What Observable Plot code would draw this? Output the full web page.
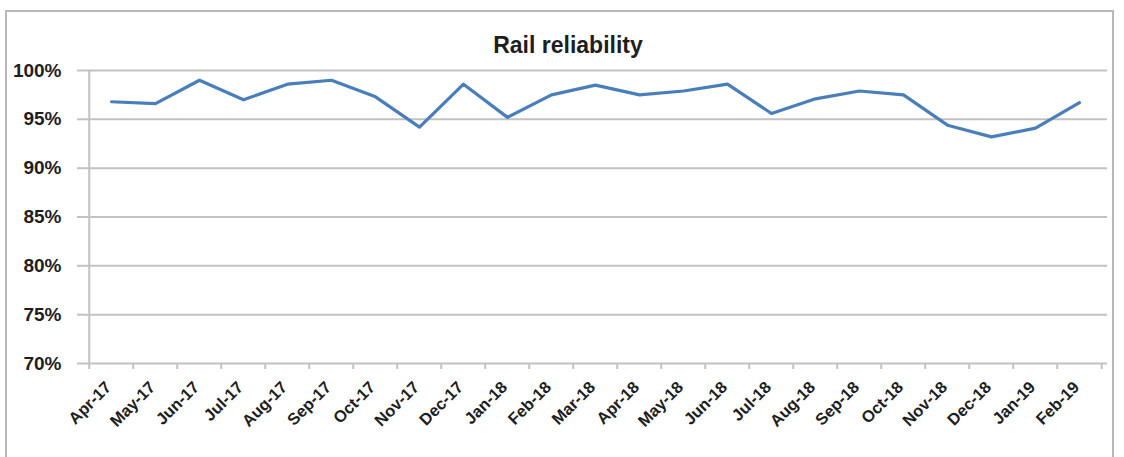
<!DOCTYPE html>
<html>
<head>
<meta charset="utf-8">
<script src="https://cdn.jsdelivr.net/npm/d3@7"></script>
<script src="https://cdn.jsdelivr.net/npm/@observablehq/plot@0.6"></script>
<style>
  body { margin: 0; background: #fff; font-family: "Liberation Sans", Arial, sans-serif; }
  #wrap { position: relative; width: 1124px; height: 457px; overflow: hidden; }
  #box { position: absolute; left: 5px; top: 10px; width: 1109px; height: 470px; border: 2px solid #b8b8b8; box-sizing: border-box; }
  #title { position: relative; height: 60px; }
  #title span { position: absolute; left: 418px; width: 300px; top: 34px; text-align: center;
    font-size: 23px; line-height: 22px; font-weight: bold; color: #1e1e1e; }
  #chart { position: relative; }
  #chart svg { display: block; }
</style>
</head>
<body>
<div id="wrap">
  <div id="box"></div>
  <div id="title"><span>Rail reliability</span></div>
  <div id="chart"></div>
</div>
<script>
// Monthly rail reliability, April 2017 – February 2019
const months = [
  "Apr-17", "May-17", "Jun-17", "Jul-17", "Aug-17", "Sep-17", "Oct-17", "Nov-17",
  "Dec-17", "Jan-18", "Feb-18", "Mar-18", "Apr-18", "May-18", "Jun-18", "Jul-18",
  "Aug-18", "Sep-18", "Oct-18", "Nov-18", "Dec-18", "Jan-19", "Feb-19"
];
const reliability = [
  0.968, 0.966, 0.990, 0.970, 0.986, 0.990, 0.973, 0.942,
  0.986, 0.952, 0.975, 0.985, 0.975, 0.979, 0.986, 0.956,
  0.971, 0.979, 0.975, 0.944, 0.932, 0.941, 0.967
];
const yTicks = [0.70, 0.75, 0.80, 0.85, 0.90, 0.95, 1.00];

const data = months.map((month, i) => ({month, value: reliability[i]}));

const width = 1124, marginLeft = 83, marginRight = 17;
const band = (width - marginLeft - marginRight) / months.length;
const gridColor = "#c2c2c2";
const textColor = "#1e1e1e";

const chart = Plot.plot({
  width,
  height: 397,
  marginTop: 10,
  marginBottom: 94,
  marginLeft,
  marginRight,
  style: {fontFamily: "'Liberation Sans', Arial, sans-serif", background: "transparent", overflow: "visible"},
  x: {type: "band", domain: months, padding: 0, label: null},
  y: {domain: [0.70, 1.00], label: null},
  marks: [
    Plot.gridY(yTicks, {stroke: gridColor, strokeOpacity: 1, strokeWidth: 2}),
    // vertical axis line on the left edge of the first band
    Plot.ruleX([months[0]], {dx: -band / 2, stroke: gridColor, strokeWidth: 2}),
    Plot.axisY(yTicks, {
      tickSize: 6, tickPadding: 16, tickFormat: d3.format(".0%"),
      stroke: gridColor, strokeWidth: 2,
      fontSize: 19, fontWeight: "bold", fill: textColor, label: null
    }),
    // tick marks between months
    Plot.axisX({tickSize: 6, tickFormat: () => "", dx: -band / 2, stroke: gridColor, strokeWidth: 2, label: null}),
    Plot.axisX([months[months.length - 1]], {tickSize: 6, tickFormat: () => "", dx: band / 2, stroke: gridColor, strokeWidth: 2, label: null}),
    // rotated month labels
    Plot.axisX({
      tickSize: 0, tickRotate: -45, tickPadding: 21, dx: -3,
      fontSize: 16.5, fontWeight: "bold", fill: textColor, label: null
    }),
    Plot.line(data, {x: "month", y: "value", stroke: "#4a7ebb", strokeWidth: 3.2})
  ]
});
document.getElementById("chart").append(chart);
</script>
</body>
</html>
